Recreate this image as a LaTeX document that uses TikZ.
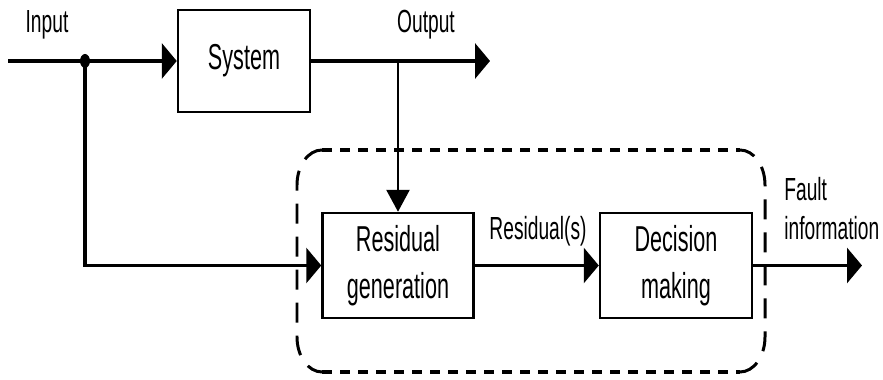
\documentclass[tikz,border=0pt]{standalone}
\usepackage{fontspec}
\setmainfont{Liberation Sans}[FakeStretch=0.6]
\usepackage{tikz}
\usetikzlibrary{arrows.meta}

\begin{document}
\begin{tikzpicture}[
    block/.style={draw, line width=1.4pt, align=center, inner sep=0pt,
      font=\fontsize{20.5pt}{27pt}\selectfont},
    lbl/.style={font=\fontsize{18.2pt}{22.7pt}\selectfont, inner sep=0pt},
    mainline/.style={line width=2.6pt, -{Triangle[length=0.3cm, width=0.7cm]}},
    hline/.style={line width=1.9pt, -{Triangle[length=0.3cm, width=0.7cm]}},
    vline/.style={line width=1.5pt, -{Triangle[length=0.44cm, width=0.46cm]}},
    hdash/.style={line width=2.2pt, dash pattern=on 0.2cm off 0.16cm},
    vdash/.style={line width=1.7pt, dash pattern=on 0.4cm off 0.26cm}
  ]
    \useasboundingbox (0cm, 0cm) rectangle (17.66cm, 7.6cm);

    % Blocks
    \node[block, minimum width=2.64cm, minimum height=2.04cm] (system) at (4.88cm, 6.38cm) {System};
    \node[block, minimum width=3.02cm, minimum height=2.1cm] (residual) at (7.96cm, 2.29cm) {Residual\\generation};
    \node[block, minimum width=3.04cm, minimum height=2.1cm] (decision) at (13.52cm, 2.29cm) {Decision\\making};

    % End points
    \coordinate (in) at (0.16cm, 6.38cm);
    \coordinate (split) at (1.7cm, 6.38cm);
    \coordinate (tap) at (7.96cm, 6.38cm);
    \coordinate (out) at (9.8cm, 6.38cm);
    \coordinate (fault) at (17.24cm, 2.29cm);

    % Signals
    \draw[mainline] (in) -- (system.west);
    \draw[mainline] (system.east) -- (out);
    \draw[vline] (tap) -- (residual.north);
    \draw[hline] (split) |- (residual.west);
    \draw[hline] (residual.east) -- (decision.west);
    \draw[hline] (decision.east) -- (fault);
    \fill (split) ellipse [x radius=0.1cm, y radius=0.14cm];

    % Labels
    \node[lbl, anchor=base] (inlbl) at (0.94cm, 6.94cm) {Input};
    \node[lbl, anchor=base] (outlbl) at (8.52cm, 6.94cm) {Output};
    \node[lbl, anchor=base] (reslbl) at (10.76cm, 2.8cm) {Residual(s)};
    \node[lbl, anchor=base west, align=left] (faultlbl) at (15.68cm, 2.8cm) {Fault\\information};

    % Fault detection unit
    \draw[hdash] (6.44cm, 4.6cm) -- (14.8cm, 4.6cm);
    \draw[hdash] (6.44cm, 0.16cm) -- (14.8cm, 0.16cm);
    \draw[vdash] (6.44cm, 4.6cm) arc[start angle=90, end angle=180, x radius=0.5cm, y radius=0.7cm]
      -- (5.94cm, 0.86cm) arc[start angle=180, end angle=270, x radius=0.5cm, y radius=0.7cm];
    \draw[vdash] (14.8cm, 0.16cm) arc[start angle=270, end angle=360, x radius=0.5cm, y radius=0.7cm]
      -- (15.3cm, 3.9cm) arc[start angle=0, end angle=90, x radius=0.5cm, y radius=0.7cm];
\end{tikzpicture}
\end{document}
